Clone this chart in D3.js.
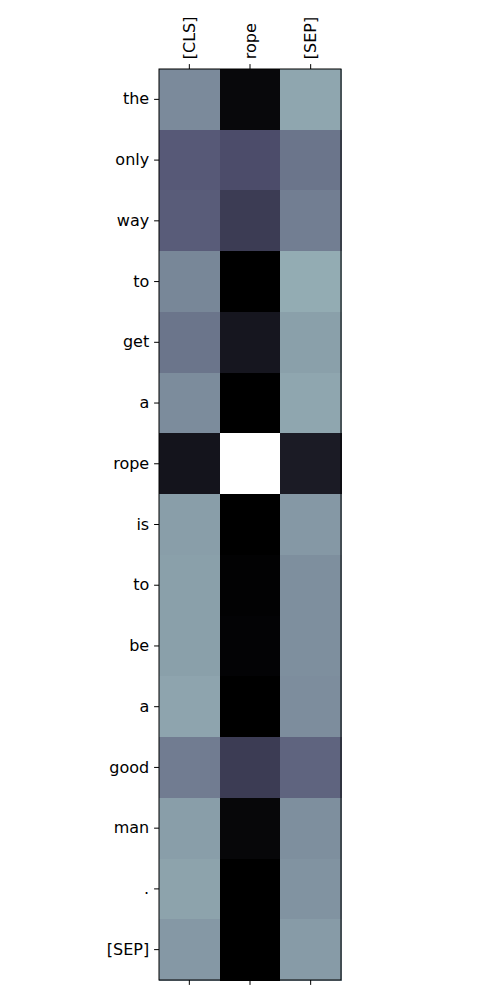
<!DOCTYPE html>
<html><head><meta charset="utf-8">
<script src="https://cdn.jsdelivr.net/npm/d3@7"></script>
<style>body{margin:0;background:#fff}</style>
</head><body>
<script>
const cols = ["[CLS]", "rope", "[SEP]"];
const rows = ["the","only","way","to","get","a","rope","is","to","be","a","good","man",".","[SEP]"];
const valCLS = [0.55,0.39,0.40,0.54,0.48,0.555,0.09,0.615,0.62,0.62,0.635,0.505,0.615,0.63,0.595];
const valRope = [0.035,0.34,0.27,0.0,0.1,0.0,1.0,0.0,0.01,0.015,0.0,0.27,0.03,0.0,0.0];
const valSEP = [0.64,0.48,0.51,0.66,0.62,0.64,0.12,0.595,0.565,0.565,0.56,0.425,0.565,0.58,0.605];

const W=500,H=1000;
const svg=d3.select("body").append("svg").attr("width",W).attr("height",H);
const L=159,R=341,T=69,B=980;
const x=d3.scaleBand().domain(d3.range(cols.length)).range([L,R]).padding(0);
const y=d3.scaleBand().domain(d3.range(rows.length)).range([T,B]).padding(0);
const rS=d3.scaleLinear().domain([0,0.746032,1]).range([0,0.652778,1]);
const gS=d3.scaleLinear().domain([0,0.365079,0.746032,1]).range([0,0.319444,0.777778,1]);
const bS=d3.scaleLinear().domain([0,0.365079,1]).range([0,0.444444,1]);
const bone=v=>d3.rgb(rS(v)*255,gS(v)*255,bS(v)*255).toString();
const series=[valCLS,valRope,valSEP];
const cells=[];
series.forEach((s,ci)=>s.forEach((v,ri)=>cells.push({ci,ri,v})));
svg.append("g").selectAll("rect").data(cells).join("rect")
  .attr("x",d=>x(d.ci)).attr("y",d=>y(d.ri))
  .attr("width",x.bandwidth()+0.5).attr("height",y.bandwidth()+0.5)
  .attr("fill",d=>bone(d.v)).attr("shape-rendering","crispEdges");
svg.append("rect").attr("x",L).attr("y",T).attr("width",R-L).attr("height",B-T)
  .attr("fill","none").attr("stroke","#000").attr("stroke-width",1);
const font="DejaVu Sans";
const fs=16;
const ya=svg.append("g").attr("transform",`translate(${L},0)`)
  .call(d3.axisLeft(y).tickFormat(i=>rows[i]).tickSize(4.9).tickPadding(4.9));
ya.select(".domain").remove();
ya.selectAll("text").attr("font-family",font).attr("font-size",fs).attr("fill","#000");
const xa=svg.append("g").attr("transform",`translate(0,${T})`)
  .call(d3.axisTop(x).tickFormat(i=>cols[i]).tickSize(4.9).tickPadding(4.9));
xa.select(".domain").remove();
xa.selectAll("text").attr("font-family",font).attr("font-size",fs).attr("fill","#000")
  .attr("transform","rotate(-90)").attr("text-anchor","start").attr("dy","0.35em")
  .attr("x",9.8).attr("y",0);
const xb=svg.append("g").attr("transform",`translate(0,${B})`)
  .call(d3.axisBottom(x).tickFormat("").tickSize(4.9));
xb.select(".domain").remove();
</script>
</body></html>
